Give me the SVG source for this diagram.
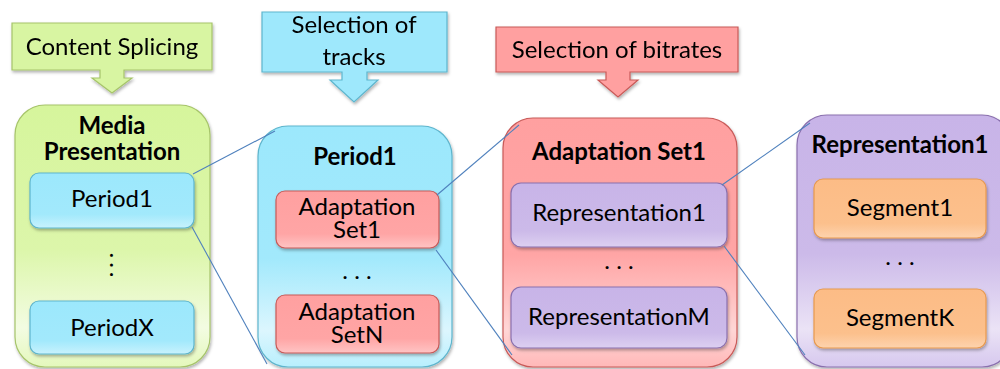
<svg xmlns="http://www.w3.org/2000/svg" width="1000" height="369" viewBox="0 0 1000 369">
<defs>
<filter id="sh" x="-10%" y="-10%" width="125%" height="125%">
<feDropShadow dx="1" dy="2" stdDeviation="1.5" flood-color="#000" flood-opacity="0.3"/>
</filter>
<linearGradient id="gGreen" x1="0" y1="0" x2="0" y2="1">
<stop offset="0" stop-color="#d6f59c"/><stop offset="0.55" stop-color="#dcf6aa"/><stop offset="0.85" stop-color="#f3fce2"/><stop offset="1" stop-color="#e4f8bc"/>
</linearGradient>
<linearGradient id="gBlue" x1="0" y1="0" x2="0" y2="1">
<stop offset="0" stop-color="#9ce8fc"/><stop offset="0.55" stop-color="#a2e9fc"/><stop offset="0.85" stop-color="#dcf6fe"/><stop offset="1" stop-color="#b8effd"/>
</linearGradient>
<linearGradient id="gRed" x1="0" y1="0" x2="0" y2="1">
<stop offset="0" stop-color="#ffa0a0"/><stop offset="0.55" stop-color="#ffa5a5"/><stop offset="0.85" stop-color="#ffd6d6"/><stop offset="1" stop-color="#ffb8b8"/>
</linearGradient>
<linearGradient id="gPurple" x1="0" y1="0" x2="0" y2="1">
<stop offset="0" stop-color="#c8b4e8"/><stop offset="0.55" stop-color="#ccbae9"/><stop offset="0.85" stop-color="#ebe3f6"/><stop offset="1" stop-color="#d6c8ee"/>
</linearGradient>
<linearGradient id="sBlue" x1="0" y1="0" x2="0" y2="1">
<stop offset="0" stop-color="#9ce8fc"/><stop offset="0.75" stop-color="#a2e9fc"/><stop offset="1" stop-color="#c8f2fd"/>
</linearGradient>
<linearGradient id="sRed" x1="0" y1="0" x2="0" y2="1">
<stop offset="0" stop-color="#ffa0a0"/><stop offset="0.75" stop-color="#ffa5a5"/><stop offset="1" stop-color="#ffc4c4"/>
</linearGradient>
<linearGradient id="sPurple" x1="0" y1="0" x2="0" y2="1">
<stop offset="0" stop-color="#c8b4e8"/><stop offset="0.75" stop-color="#ccbae9"/><stop offset="1" stop-color="#ddd0f1"/>
</linearGradient>
<linearGradient id="sOrange" x1="0" y1="0" x2="0" y2="1">
<stop offset="0" stop-color="#fcbc86"/><stop offset="0.75" stop-color="#fcc08c"/><stop offset="1" stop-color="#fdd3ae"/>
</linearGradient>
</defs>
<style>
text{font-family:Lato,"Liberation Sans",sans-serif;font-size:24px;fill:#000;text-anchor:middle}
.b{font-weight:bold}
.green{fill:url(#gGreen);stroke:#a6c46a;stroke-width:1.2}
.blue{fill:url(#gBlue);stroke:#5eb5cd;stroke-width:1.2}
.red{fill:url(#gRed);stroke:#c85a58;stroke-width:1.2}
.purple{fill:url(#gPurple);stroke:#8a70ae;stroke-width:1.2}
.sblue{fill:url(#sBlue);stroke:#5eb5cd;stroke-width:1.2}
.sred{fill:url(#sRed);stroke:#c85a58;stroke-width:1.2}
.spurple{fill:url(#sPurple);stroke:#8a70ae;stroke-width:1.2}
.sorange{fill:url(#sOrange);stroke:#e8994e;stroke-width:1.2}
.cg{fill:#d8f5a2;stroke:#a6c46a;stroke-width:1.2}
.cb{fill:#9ee8fc;stroke:#5eb5cd;stroke-width:1.2}
.cr{fill:#ffa0a0;stroke:#c85a58;stroke-width:1.2}
.ln{stroke:#4f81bd;stroke-width:1.1;fill:none}
.vd{letter-spacing:4px}
</style>

<g id="callout-splicing" filter="url(#sh)">
<path class="cg" d="M12,23 H212 V70 H124 V78 H132 L112,93 L92,78 H100 V70 H12 Z"/>
<text x="112" y="55">Content Splicing</text>
</g>
<g id="callout-tracks" filter="url(#sh)">
<path class="cb" d="M262,12 H447 V72 H367 V80 H378 L354,102 L330,80 H342 V72 H262 Z"/>
<text x="354" y="33"><tspan x="354">Selection of</tspan><tspan x="354" dy="32">tracks</tspan></text>
</g>
<g id="callout-bitrates" filter="url(#sh)">
<path class="cr" d="M496,27 H738 V72 H630 V80 H638 L618,97 L598,80 H606 V72 H496 Z"/>
<text x="617" y="58">Selection of bitrates</text>
</g>

<g id="media-presentation">
<rect class="green" x="15" y="105" width="195" height="262" rx="30" filter="url(#sh)"/>
<text class="b" x="112" y="134"><tspan x="112">Media</tspan><tspan x="112" dy="26">Presentation</tspan></text>
<g id="mp-period1" filter="url(#sh)"><rect class="sblue" x="30" y="173" width="164" height="55" rx="9"/></g>
<text x="112" y="207">Period1</text>
<text class="vd" x="110" y="267" transform="rotate(90 110 267)">...</text>
<g id="mp-periodx" filter="url(#sh)"><rect class="sblue" x="30" y="301" width="164" height="53" rx="9"/></g>
<text x="112" y="336">PeriodX</text>
</g>

<g id="period1">
<rect class="blue" x="258" y="126" width="194" height="241" rx="30" filter="url(#sh)"/>
<text class="b" x="355" y="165">Period1</text>
<g filter="url(#sh)"><rect class="sred" x="276" y="191" width="163" height="57" rx="9"/></g>
<text x="357" y="215"><tspan x="357">Adaptation</tspan><tspan x="357" dy="23">Set1</tspan></text>
<text x="357" y="279">. . .</text>
<g filter="url(#sh)"><rect class="sred" x="276" y="295" width="163" height="58" rx="9"/></g>
<text x="357" y="320"><tspan x="357">Adaptation</tspan><tspan x="357" dy="23">SetN</tspan></text>
</g>

<g id="adaptation-set1">
<rect class="red" x="503" y="118" width="234" height="249" rx="30" filter="url(#sh)"/>
<text class="b" x="619" y="160">Adaptation Set1</text>
<g filter="url(#sh)"><rect class="spurple" x="511" y="183" width="216" height="64" rx="10"/></g>
<text x="619" y="221">Representation1</text>
<text x="619" y="269">. . .</text>
<g filter="url(#sh)"><rect class="spurple" x="511" y="287" width="216" height="61" rx="10"/></g>
<text x="619" y="325">RepresentationM</text>
</g>

<g id="representation1">
<rect class="purple" x="797" y="115" width="215" height="252" rx="30" filter="url(#sh)"/>
<text class="b" x="900" y="153">Representation1</text>
<g filter="url(#sh)"><rect class="sorange" x="814" y="179" width="172" height="59" rx="9"/></g>
<text x="900" y="216">Segment1</text>
<text x="900" y="265">. . .</text>
<g filter="url(#sh)"><rect class="sorange" x="814" y="289" width="172" height="59" rx="9"/></g>
<text x="900" y="326">SegmentK</text>
</g>

<g id="connectors">
<line class="ln" x1="193" y1="174" x2="275" y2="131"/>
<line class="ln" x1="192" y1="227" x2="267" y2="364"/>
<line class="ln" x1="437" y1="195" x2="519" y2="125"/>
<line class="ln" x1="436" y1="250" x2="512" y2="355"/>
<line class="ln" x1="722" y1="185" x2="810" y2="123"/>
<line class="ln" x1="724" y1="246" x2="805" y2="355"/>
</g>
</svg>
